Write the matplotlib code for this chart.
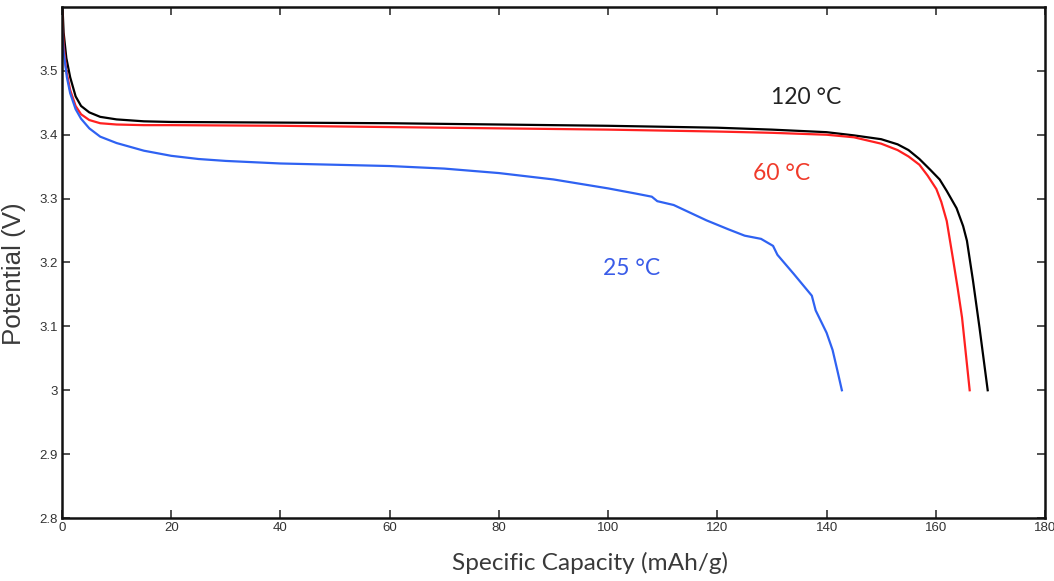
import matplotlib.pyplot as plt

# discharge curves (capacity in mAh/g, potential in V)
cap_120 = [0, 0.3, 0.8, 1.5, 2.5, 3.5, 5, 7, 10, 15, 20, 40, 60, 80, 100, 120,
           130, 140, 145, 150, 153, 155, 157, 159, 160.7, 162, 163.8, 165,
           165.7, 166.8, 168, 169.5]
pot_120 = [3.62, 3.56, 3.52, 3.49, 3.46, 3.445, 3.435, 3.428, 3.424, 3.421, 3.42,
           3.419, 3.418, 3.416, 3.414, 3.411, 3.408, 3.404, 3.399, 3.393, 3.385,
           3.376, 3.362, 3.345, 3.33, 3.312, 3.285, 3.257, 3.234, 3.172, 3.098, 3.0]

cap_60 = [0, 0.3, 0.8, 1.5, 2.5, 3.5, 5, 7, 10, 15, 20, 40, 60, 80, 100, 120,
          130, 140, 145, 150, 153, 155, 157, 158.5, 160.1, 161, 162, 163.1, 164,
          164.8, 166.2]
pot_60 = [3.6, 3.54, 3.5, 3.47, 3.445, 3.432, 3.423, 3.418, 3.416, 3.415, 3.415,
          3.414, 3.412, 3.410, 3.408, 3.405, 3.403, 3.400, 3.396, 3.386, 3.376,
          3.366, 3.353, 3.336, 3.315, 3.295, 3.265, 3.208, 3.16, 3.114, 3.0]

cap_25 = [0, 0.3, 0.9, 1.5, 2.5, 3.5, 5, 7, 10, 15, 20, 25, 30, 40, 50, 60, 70,
          80, 90, 100, 105, 108, 109, 112, 118, 122, 125, 128, 130.2, 131, 134,
          137.3, 138, 140, 141.1, 142, 142.8]
pot_25 = [3.57, 3.53, 3.49, 3.465, 3.44, 3.425, 3.41, 3.397, 3.387, 3.375, 3.367,
          3.362, 3.359, 3.355, 3.353, 3.351, 3.347, 3.340, 3.330, 3.316, 3.308,
          3.303, 3.296, 3.29, 3.266, 3.252, 3.242, 3.237, 3.226, 3.212, 3.182,
          3.148, 3.125, 3.09, 3.063, 3.03, 3.0]

x_ticks = [0, 20, 40, 60, 80, 100, 120, 140, 160, 180]
y_ticks = [2.8, 2.9, 3.0, 3.1, 3.2, 3.3, 3.4, 3.5]
y_tick_labels = ["2.8", "2.9", "3", "3.1", "3.2", "3.3", "3.4", "3.5"]

BLACK = "#000000"
RED = "#ff2020"
BLUE = "#2f62f2"
TICK_INK = "#333333"
LABEL_INK = "#3a3a3a"

fig = plt.figure(figsize=(10.54, 5.81), dpi=100)
ax = fig.add_axes([0.0588, 0.1084, 0.9327, 0.8796])

ax.plot(cap_120, pot_120, color=BLACK, linewidth=1.6)
ax.plot(cap_60, pot_60, color=RED, linewidth=1.6)
ax.plot(cap_25, pot_25, color=BLUE, linewidth=1.6)

ax.set_xlim(0, 180)
ax.set_ylim(2.8, 3.6)
ax.set_xticks(x_ticks)
ax.set_yticks(y_ticks)
ax.set_yticklabels(y_tick_labels)
ax.tick_params(direction="in", length=6, width=1.2, top=True, right=True,
               labelsize=9.5, colors=TICK_INK, pad=3)
for lbl in ax.get_xticklabels() + ax.get_yticklabels():
    lbl.set_family(["Liberation Sans", "DejaVu Sans"])
for spine in ax.spines.values():
    spine.set_linewidth(1.8)
    spine.set_color("#111111")

ax.set_xlabel("Specific Capacity (mAh/g)",
              family=["Lato", "DejaVu Sans"], fontsize=17.6, color=LABEL_INK)
ax.xaxis.set_label_coords(0.537, -0.066)
ax.set_ylabel("Potential (V)",
              family=["Liberation Sans", "DejaVu Sans"], fontsize=18.6, color=LABEL_INK)
ax.yaxis.set_label_coords(-0.037, 0.479)

ann_font = dict(family=["Lato", "DejaVu Sans"], fontsize=16.5, ha="center", va="center")
ax.text(136.2, 3.458, "120 °C", color="#222222", **ann_font)
ax.text(131.8, 3.339, "60 °C", color="#f03a2a", **ann_font)
ax.text(104.3, 3.19, "25 °C", color="#3a5ce8", **ann_font)

fig.savefig("out.png", dpi=100, facecolor="white")
